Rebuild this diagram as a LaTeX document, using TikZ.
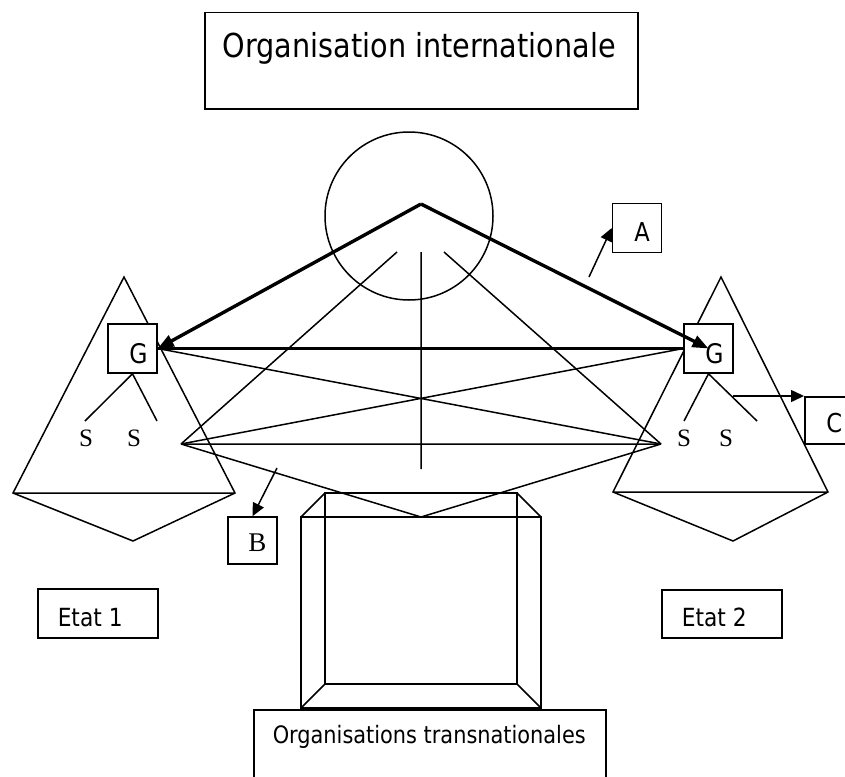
\documentclass[tikz,border=0pt]{standalone}
\usepackage{fontspec}
\usetikzlibrary{arrows.meta,positioning}
\newfontfamily\tahomaface[FakeStretch=0.87]{DejaVu Sans}
\newfontfamily\serifface{Liberation Serif}

\begin{document}
\begin{tikzpicture}[x=1pt,y=-1pt,line width=1.5pt,line join=miter,
    box/.style={draw,fill=white,rectangle,inner sep=0pt},
    letterbox/.style={box,minimum width=49pt,minimum height=49pt},
    sansat/.style={font=\tahomaface\fontsize{#1}{#1}\selectfont,inner sep=0pt},
    serifat/.style={font=\serifface\fontsize{#1}{#1}\selectfont,inner sep=0pt},
    boldarrow/.style={line width=3.4pt,-{Triangle[length=16pt,width=12pt]}},
    slimarrow/.style={-{Triangle[length=13pt,width=12pt]}}]
    \useasboundingbox (0,0) rectangle (845,776);

    \node[box,minimum width=433pt,minimum height=96pt,anchor=north west] (oi) at (204,12) {};
    \node[sansat=33,anchor=base west] (oitext) at (222,57) {Organisation internationale};
    \node[draw,circle,minimum size=168pt,inner sep=0pt] (oicircle) at (409,216) {};

    \coordinate (top1) at (124,277);
    \coordinate (bl1) at (13,493);
    \coordinate (br1) at (235,493);
    \coordinate (tip1) at (133,541);
    \coordinate (top2) at (721,277);
    \coordinate (bl2) at (613,492);
    \coordinate (br2) at (828,492);
    \coordinate (tip2) at (733,541);
    \draw (top1) -- (bl1) -- (tip1) -- (br1) -- cycle (bl1) -- (br1);
    \draw (top2) -- (bl2) -- (tip2) -- (br2) -- cycle (bl2) -- (br2);

    \node[letterbox,label={[sansat=27,xshift=6pt,yshift=-5pt]center:G}] (gL) at (132.5,348.5) {};
    \node[letterbox,label={[sansat=27,xshift=6pt,yshift=-5pt]center:G}] (gR) at (708.5,348.5) {};

    \coordinate (apex) at (421,204);
    \coordinate (L) at (181,444);
    \coordinate (R) at (661,444);
    \coordinate (bot) at (421,517);
    \coordinate (fl) at (397,252);
    \coordinate (fm) at (421,252);
    \coordinate (fr) at (444,252);
    \coordinate (fmend) at (421,469);
    \draw (L) -- (R) (L) -- (bot) -- (R);
    \draw (fl) -- (L) (fr) -- (R) (fm) -- (fmend);
    \draw (gL.east) -- (R) (L) -- (gR.west);

    \coordinate (s1) at (85,421);
    \coordinate (s2) at (157,421);
    \coordinate (s3) at (684,421);
    \coordinate (s4) at (757,421);
    \draw (s1) -- (gL.south) -- (s2);
    \draw (s3) -- (gR.south) -- (s4);
    \node[serifat=25] (sL1) at (86,438) {S};
    \node[serifat=25] (sL2) at (134,438) {S};
    \node[serifat=25] (sR1) at (684,438) {S};
    \node[serifat=25] (sR2) at (726,438) {S};

    \draw (301,517) rectangle (541,708);
    \draw (325,493) rectangle (517,684);
    \draw (301,517) -- (325,493) (541,517) -- (517,493);
    \draw (301,708) -- (325,684) (541,708) -- (517,684);

    \node[box,minimum width=352pt,minimum height=90pt,anchor=north west] (ot) at (253,709) {};
    \node[sansat=24,anchor=base west] (ottext) at (272,743) {Organisations transnationales};

    \node[box,minimum width=120pt,minimum height=49pt,anchor=north west] (etat1) at (37,588) {};
    \node[sansat=25,anchor=base west] (etat1text) at (57,626) {Etat 1};
    \node[box,minimum width=120pt,minimum height=48pt,anchor=north west] (etat2) at (661,589) {};
    \node[sansat=25,anchor=base west] (etat2text) at (681,626) {Etat 2};

    \node[letterbox,label={[sansat=26,xshift=5pt,yshift=-4pt]center:A}] (boxA) at (637,228) {};
    \node[letterbox,minimum height=47pt,anchor=north west,label={[sansat=26,xshift=5pt,yshift=-3pt]center:C}] (boxC) at (804,396) {};
    \node[letterbox,minimum height=47pt,label={[serifat=27,xshift=5pt,yshift=-2pt]center:B}] (boxB) at (252.5,540.5) {};

    \coordinate (astart) at (589,277);
    \coordinate (bstart) at (277,468);
    \coordinate (cstart) at (733,396);
    \draw[slimarrow] (astart) -- (boxA.west);
    \draw[slimarrow] (bstart) -- (boxB.north);
    \draw[slimarrow] (cstart) -- (boxC.north west);

    \draw[line width=3.4pt] (gL.east) -- (gR.west);
    \draw[boldarrow] (apex) -- (gL.east);
    \draw[boldarrow] (apex) -- (gR.center);
\end{tikzpicture}
\end{document}
